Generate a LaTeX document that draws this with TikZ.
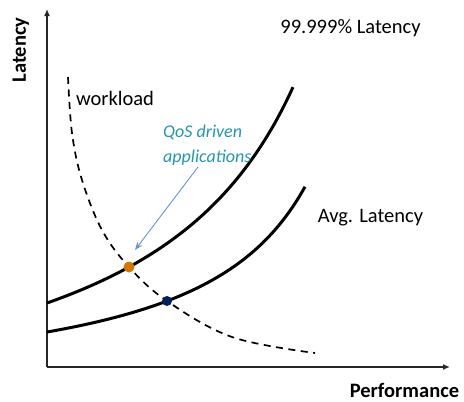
\documentclass[tikz,border=0pt]{standalone}
\usepackage{fontspec}
\setmainfont{Carlito}
\usetikzlibrary{arrows.meta}
\definecolor{dotorange}{HTML}{CC7A00}
\definecolor{dotblue}{HTML}{002060}
\definecolor{qosteal}{HTML}{2596AE}
\definecolor{arrowblue}{HTML}{6A8EDB}
\definecolor{axisgray}{HTML}{262626}
\begin{document}
\begin{tikzpicture}[x=1pt,y=-1pt,
  axisline/.style={line width=1.3pt, draw=axisgray, -{Latex[length=7pt,width=6pt]}},
  curve/.style={line width=3pt, black},
  workcurve/.style={line width=1.7pt, black, dash pattern=on 7pt off 5.5pt},
  lbl/.style={font=\fontsize{20.5}{24}\selectfont, inner sep=0pt},
  boldlbl/.style={font=\fontsize{20.5}{24}\selectfont\bfseries, inner sep=0pt},
  qoslbl/.style={font=\fontsize{18}{22}\selectfont\itshape, text=qosteal, inner sep=0pt},
  dot/.style={circle, inner sep=0pt, minimum size=11pt}]
\useasboundingbox (0,0) rectangle (464,402);
% axes
\coordinate (origin) at (47,367);
\coordinate (ytip) at (47,9);
\coordinate (xtip) at (450,367);
\draw[axisline] (origin) -- (ytip);
\draw[axisline] (origin) -- (xtip);
% curves
\draw[workcurve] plot[smooth, tension=0.6] coordinates {(68,77) (72,133) (82,180) (102,230) (129,267) (167,301) (232,337) (315,353)};
\draw[curve] plot[domain=47:293, samples=80, variable=\t] (\t, {303 - 59*(1000/(457-\t) - 2.439)});
\draw[curve] plot[domain=47:305, samples=80, variable=\t] (\t, {332 - 24.7*(1000/(422-\t) - 2.667)});
% dots
\node[dot, fill=dotorange] (qosdot) at (129,267) {};
\node[dot, fill=dotblue, minimum size=10pt] (avgdot) at (167,301) {};
% labels
\node[lbl, anchor=base] (tail) at (350.5,33) {99.999\% Latency};
\node[lbl, anchor=base] (avg) at (370.5,222) {Avg. Latency};
\node[lbl, anchor=base] (work) at (115,105) {workload};
\node[boldlbl, anchor=base] (perf) at (404.5,397) {Performance};
\node[boldlbl, anchor=base, rotate=90] (lat) at (26,50) {Latency};
\node[qoslbl, anchor=base west] (qos1) at (163,137) {QoS driven};
\node[qoslbl, anchor=base west] (qos2) at (163,162) {applications};
% pointer
\coordinate (ptrstart) at (198,167);
\coordinate (ptrend) at (135,250);
\draw[arrowblue, line width=0.9pt, -{Stealth[length=8pt,width=6pt]}] (ptrstart) -- (ptrend);
\end{tikzpicture}
\end{document}
